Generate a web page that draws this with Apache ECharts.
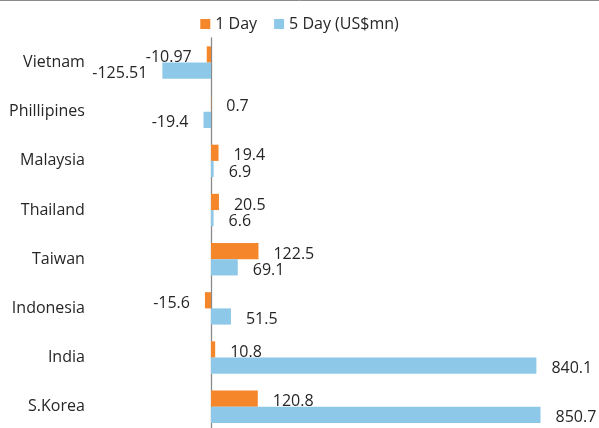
<!DOCTYPE html>
<html>
<head>
<meta charset="utf-8">
<script src="https://cdn.jsdelivr.net/npm/echarts@6/dist/echarts.min.js"></script>
<style>
html,body{margin:0;padding:0;background:#fff;}
#chart{width:599px;height:428px;}
</style>
</head>
<body>
<div id="chart"></div>
<script>
const categories = ['Vietnam', 'Phillipines', 'Malaysia', 'Thailand', 'Taiwan', 'Indonesia', 'India', 'S.Korea'];
const oneDay = [-10.97, 0.7, 19.4, 20.5, 122.5, -15.6, 10.8, 120.8];
const fiveDay = [-125.51, -19.4, 6.9, 6.6, 69.1, 51.5, 840.1, 850.7];
const seriesNames = ['1 Day', '5 Day (US$mn)'];

const FONT = '"Open Sans", "Noto Sans", sans-serif';
const TXT = '#262626';

function withLabels(arr) {
  return arr.map(v => ({
    value: v,
    label: { position: v < 0 ? 'left' : 'right' }
  }));
}

const chart = echarts.init(document.getElementById('chart'), null, { renderer: 'canvas' });
chart.setOption({
  animation: false,
  backgroundColor: '#fff',
  textStyle: { fontFamily: FONT },
  graphic: [{
    type: 'line',
    shape: { x1: 0, y1: 0.5, x2: 599, y2: 0.5 },
    style: { stroke: '#8a8a8a', lineWidth: 1 }
  }],
  legend: {
    data: seriesNames,
    top: 11,
    left: 'center',
    itemWidth: 10,
    itemHeight: 10,
    itemGap: 17,
    icon: 'rect',
    textStyle: { fontFamily: FONT, fontSize: 16, color: TXT }
  },
  grid: {
    left: 152.9,
    right: 39.4,
    top: 38,
    bottom: -3.3,
    containLabel: false,
    outerBoundsMode: 'none'
  },
  xAxis: {
    type: 'value',
    min: -150,
    max: 900,
    interval: 150,
    show: false,
    splitLine: { show: false }
  },
  yAxis: {
    type: 'category',
    data: categories,
    inverse: true,
    axisTick: { show: false },
    axisLine: { show: true, lineStyle: { color: '#8a8a8a', width: 1.3 } },
    axisLabel: {
      margin: 68,
      fontFamily: FONT,
      fontSize: 16,
      color: TXT
    }
  },
  series: [
    {
      name: seriesNames[0],
      type: 'bar',
      data: withLabels(oneDay),
      barGap: '0%',
      barCategoryGap: '34%',
      itemStyle: { color: '#F5862A' },
      label: { show: true, distance: 15, offset: [0, 3], fontFamily: FONT, fontSize: 16, color: TXT }
    },
    {
      name: seriesNames[1],
      type: 'bar',
      data: withLabels(fiveDay),
      barGap: '0%',
      barCategoryGap: '34%',
      itemStyle: { color: '#8EC8E8' },
      label: { show: true, distance: 15, offset: [0, 3], fontFamily: FONT, fontSize: 16, color: TXT }
    }
  ]
});
</script>
</body>
</html>
